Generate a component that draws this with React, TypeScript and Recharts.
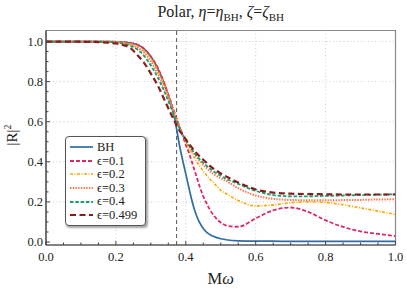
import { LineChart, Line, XAxis, YAxis, ReferenceLine, ReferenceArea, Legend } from 'recharts'

const mOmega = [0, 0.05, 0.1, 0.15, 0.18, 0.2, 0.22, 0.24, 0.26, 0.28, 0.3, 0.32, 0.34, 0.36, 0.37, 0.38, 0.39, 0.4, 0.41, 0.42, 0.43, 0.44, 0.45, 0.46, 0.47, 0.48, 0.5, 0.52, 0.55, 0.6, 0.65, 0.7, 0.75, 0.8, 0.85, 0.9, 0.95, 1.0]

const bh = [1, 1, 1, 1, 1, 0.999, 0.997, 0.993, 0.985, 0.965, 0.925, 0.865, 0.78, 0.675, 0.6, 0.5, 0.415, 0.34, 0.262, 0.19, 0.135, 0.095, 0.067, 0.048, 0.036, 0.027, 0.016, 0.01, 0.006, 0.004, 0.004, 0.003, 0.003, 0.003, 0.003, 0.003, 0.003, 0.003]
const eps01 = [1, 1, 1, 1, 1, 0.999, 0.997, 0.993, 0.985, 0.965, 0.925, 0.868, 0.785, 0.685, 0.635, 0.585, 0.535, 0.485, 0.44, 0.385, 0.33, 0.275, 0.228, 0.19, 0.158, 0.132, 0.097, 0.08, 0.076, 0.118, 0.158, 0.172, 0.15, 0.108, 0.075, 0.053, 0.04, 0.03]
const eps02 = [1, 1, 1, 1, 0.999, 0.998, 0.995, 0.99, 0.978, 0.955, 0.915, 0.855, 0.775, 0.675, 0.628, 0.583, 0.54, 0.5, 0.466, 0.435, 0.406, 0.378, 0.353, 0.332, 0.312, 0.295, 0.258, 0.236, 0.207, 0.18, 0.185, 0.196, 0.2, 0.197, 0.186, 0.17, 0.154, 0.137]
const eps03 = [1, 1, 1, 1, 0.999, 0.997, 0.993, 0.985, 0.97, 0.945, 0.9, 0.84, 0.765, 0.672, 0.623, 0.578, 0.54, 0.505, 0.475, 0.45, 0.426, 0.404, 0.385, 0.368, 0.352, 0.338, 0.318, 0.3, 0.268, 0.232, 0.215, 0.21, 0.208, 0.208, 0.209, 0.21, 0.212, 0.213]
const eps04 = [1, 1, 1, 0.999, 0.998, 0.995, 0.99, 0.98, 0.962, 0.93, 0.88, 0.82, 0.745, 0.66, 0.615, 0.575, 0.54, 0.508, 0.48, 0.455, 0.432, 0.412, 0.395, 0.38, 0.365, 0.352, 0.33, 0.312, 0.29, 0.255, 0.234, 0.228, 0.228, 0.23, 0.232, 0.234, 0.236, 0.238]
const eps0499 = [1, 1, 0.999, 0.997, 0.994, 0.99, 0.983, 0.97, 0.935, 0.895, 0.84, 0.78, 0.705, 0.63, 0.595, 0.56, 0.537, 0.512, 0.488, 0.465, 0.445, 0.426, 0.41, 0.394, 0.378, 0.365, 0.342, 0.323, 0.297, 0.262, 0.246, 0.241, 0.239, 0.238, 0.237, 0.237, 0.237, 0.237]

const gridX = [0.2, 0.4, 0.6, 0.8]
const gridY = [0.2, 0.4, 0.6, 0.8, 1.0]
const qnmLine = 0.3737
const yDomain = [-0.015, 1.055]

// minor ticks every 0.05, labels only on the 0.2 ones
const ticks = Array.from({ length: 21 }, (_, i) => Math.round(i * 5) / 100)
const isMajor = (v: number) => Math.abs(v * 5 - Math.round(v * 5)) < 1e-6

const series = [
  { key: 'bh', name: 'BH', color: '#2e6da4', dash: undefined, width: 1.7 },
  { key: 'e1', name: 'ϵ=0.1', color: '#dc2a5e', dash: '4 2', width: 1.8 },
  { key: 'e2', name: 'ϵ=0.2', color: '#ffa500', dash: '3 1.5 1 1.5', width: 1.6 },
  { key: 'e3', name: 'ϵ=0.3', color: '#ff7a55', dash: '1.5 1.2', width: 2 },
  { key: 'e4', name: 'ϵ=0.4', color: '#169f6e', dash: '3.5 1.8', width: 1.8 },
  { key: 'e5', name: 'ϵ=0.499', color: '#8b1c1c', dash: '6 3.5', width: 2.2 },
]

const data = mOmega.map((x, i) => ({
  x, bh: bh[i], e1: eps01[i], e2: eps02[i], e3: eps03[i], e4: eps04[i], e5: eps0499[i],
}))

const font = '"Liberation Serif", "DejaVu Serif", serif'

const XTick = ({ x, y, payload }: any) => {
  const major = isMajor(payload.value)
  return (
    <g>
      <line x1={x} x2={x} y1={y} y2={y - (major ? 4 : 2.5)} stroke="#444" strokeWidth={1} />
      {major && (
        <text x={x} y={y + 16} textAnchor="middle" fontFamily={font} fontSize={12.5} fill="#222">
          {payload.value.toFixed(1)}
        </text>
      )}
    </g>
  )
}

const YTick = ({ x, y, payload }: any) => {
  const major = isMajor(payload.value)
  return (
    <g>
      <line x1={x} x2={x + (major ? 4 : 2.5)} y1={y} y2={y} stroke="#444" strokeWidth={1} />
      {major && (
        <text x={x - 3} y={y + 4.5} textAnchor="end" fontFamily={font} fontSize={12.5} fill="#222">
          {payload.value.toFixed(1)}
        </text>
      )}
    </g>
  )
}

const XLabel = () => (
  <text x={220.75} y={284} textAnchor="middle" fontFamily={font} fontSize={16.5} fill="#222">
    M<tspan fontStyle="italic">ω</tspan>
  </text>
)

const YLabel = () => (
  <text x={0} y={0} transform="translate(17,135) rotate(-90)" textAnchor="middle" fontFamily={font} fontSize={15} fill="#222">
    |R|<tspan dy={-6} fontSize={10}>2</tspan>
  </text>
)

const LegendBox = () => (
  <div style={{
    width: 81, height: 90, boxSizing: 'border-box', background: '#fff', border: '1px solid #555',
    borderRadius: 4, boxShadow: '1.5px 1.5px 2px rgba(0,0,0,0.35)', padding: '3.5px 0 0 4px',
    fontFamily: font, fontSize: 12.5, color: '#222', lineHeight: 1,
  }}>
    {series.map(s => (
      <div key={s.key} style={{ display: 'flex', alignItems: 'center', height: 13.6 }}>
        <svg width={23} height={8}>
          <line x1={0} x2={23} y1={4} y2={4} stroke={s.color} strokeWidth={s.width} strokeDasharray={s.dash} />
        </svg>
        <span style={{ marginLeft: 4 }}>{s.name}</span>
      </div>
    ))}
  </div>
)

export default function App() {
  return (
    <div style={{ position: 'absolute', left: 0, top: 0, width: 407, height: 293, background: '#fff' }}>
      <div style={{ position: 'absolute', left: 46, top: 3, width: 349.5, textAlign: 'center', fontFamily: font, fontSize: 16, color: '#222', whiteSpace: 'nowrap' }}>
        Polar, <i>η</i>=<i>η</i><sub style={{ fontSize: 11 }}>BH</sub>, <i>ζ</i>=<i>ζ</i><sub style={{ fontSize: 11 }}>BH</sub>
      </div>
      <LineChart width={407} height={293} data={data} margin={{ top: 30.5, right: 11.5, left: 0, bottom: 0 }}>
        <XAxis dataKey="x" type="number" domain={[0, 1]} ticks={ticks} interval={0} allowDataOverflow
          tickSize={0} tickMargin={0} height={48} tick={<XTick />} tickLine={false}
          axisLine={{ stroke: '#444', strokeWidth: 1.2 }} label={<XLabel />} />
        <YAxis type="number" domain={yDomain} ticks={ticks} interval={0} allowDataOverflow
          tickSize={0} tickMargin={0} width={46} tick={<YTick />} tickLine={false}
          axisLine={{ stroke: '#444', strokeWidth: 1.2 }} label={<YLabel />} />
        <ReferenceArea x1={0} x2={1} y1={yDomain[0]} y2={yDomain[1]} fill="none" stroke="#888" strokeWidth={1.2} />
        {gridX.map(v => (
          <ReferenceLine key={'gx' + v} x={v} stroke="#cfcfcf" strokeDasharray="1 2.5" />
        ))}
        {gridY.map(v => (
          <ReferenceLine key={'gy' + v} y={v} stroke="#cfcfcf" strokeDasharray="1 2.5" />
        ))}
        <ReferenceLine x={qnmLine} stroke="#555" strokeDasharray="4 3" strokeWidth={1} />
        {series.map(s => (
          <Line key={s.key} dataKey={s.key} name={s.name} type="monotone" stroke={s.color}
            strokeWidth={s.width} strokeDasharray={s.dash} dot={false} isAnimationActive={false} />
        ))}
        <Legend content={<LegendBox />} layout="vertical" align="center" verticalAlign="middle"
          wrapperStyle={{ left: 65, top: 136, width: 81, height: 90 }} />
      </LineChart>
    </div>
  )
}
